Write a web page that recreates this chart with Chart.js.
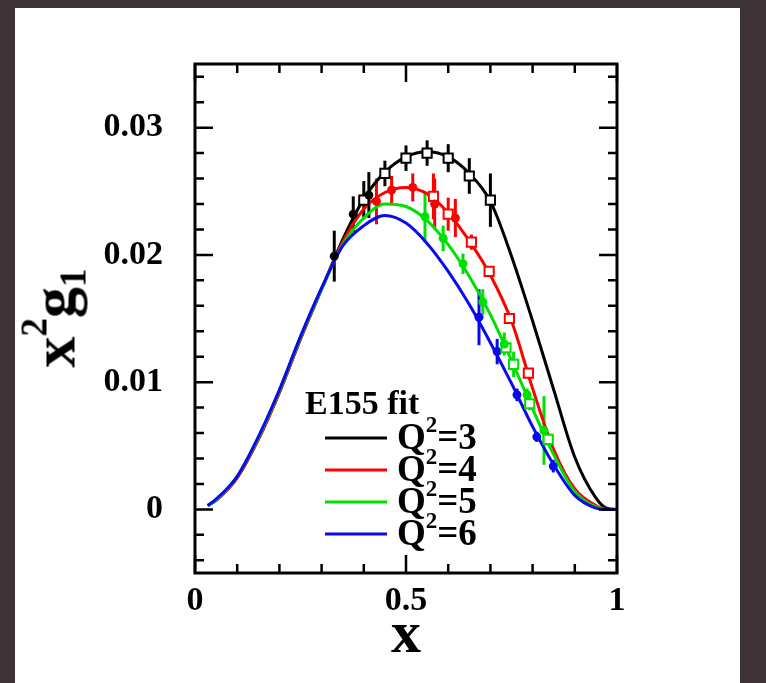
<!DOCTYPE html>
<html>
<head>
<meta charset="utf-8">
<script src="https://cdn.jsdelivr.net/npm/chart.js@4.4.1/dist/chart.umd.min.js"></script>
<style>
  html, body { margin: 0; padding: 0; background: #3d3337; }
  body { width: 766px; height: 683px; position: relative; overflow: hidden; }
  .panel { position: absolute; left: 15px; top: 8px; width: 725px; height: 675px; background: #fff; }
  .panel canvas { position: absolute; left: 0; top: 0; }
  .ytitle {
    position: absolute; left: 58px; top: 318px;
    font: bold 62px "Liberation Serif", serif; line-height: 62px; white-space: nowrap;
    transform: translate(-50%, -50%) rotate(-90deg);
  }
  .ytitle sup, .ytitle sub { font-size: 0.6em; position: relative; vertical-align: baseline; }
  .ytitle sup { top: -0.75em; }
  .ytitle sub { top: 0.3em; }
</style>
</head>
<body>
<div class="panel"><canvas id="chart" width="725" height="675"></canvas></div>
<div class="ytitle">x<sup>2</sup>g<sub>1</sub></div>
<script>
// axis ticks
const xTickLabels = [0, 0.5, 1];
const yTickLabels = [0, 0.01, 0.02, 0.03];

// E155 fit curves, x^2 g1 at several Q^2
const q2Values = [3, 4, 5, 6];
const curveX = [0.03, 0.05, 0.1, 0.15, 0.2, 0.25, 0.3, 0.35, 0.4, 0.45, 0.5, 0.55, 0.6, 0.65, 0.7, 0.75, 0.8, 0.85, 0.9, 0.95, 0.975, 1.0];
const fitQ3 = [0.0003, 0.0007, 0.0025, 0.0055, 0.0092, 0.0134, 0.0173, 0.0212, 0.0244, 0.0265, 0.0277, 0.0281, 0.0277, 0.0264, 0.0242, 0.0199, 0.0148, 0.0094, 0.0041, 0.0009, 0.0001, 0];
const fitQ4 = [0.0003, 0.0007, 0.0025, 0.0055, 0.0092, 0.0134, 0.0173, 0.0210, 0.0236, 0.0249, 0.0253, 0.0248, 0.0233, 0.0211, 0.0184, 0.0148, 0.0095, 0.0047, 0.0016, 0.0003, 0, 0];
const fitQ5 = [0.0003, 0.0007, 0.0026, 0.0056, 0.0093, 0.0135, 0.0173, 0.0208, 0.0229, 0.0240, 0.0238, 0.0227, 0.0208, 0.0183, 0.0153, 0.0117, 0.0079, 0.0043, 0.0014, 0.0002, 0, 0];
const fitQ6 = [0.0003, 0.0008, 0.0026, 0.0057, 0.0094, 0.0136, 0.0174, 0.0207, 0.0223, 0.0231, 0.0225, 0.0209, 0.0187, 0.0161, 0.0131, 0.0099, 0.0065, 0.0035, 0.0011, 0.0001, 0, 0];

// measured points (filled = other runs, open squares = E155)
const blackDotX = [0.33, 0.375, 0.412];
const blackDotY = [0.0199, 0.0232, 0.0247];
const blackDotErr = [0.0020, 0.0014, 0.0018];
const blackSqX = [0.40, 0.45, 0.50, 0.55, 0.60, 0.65, 0.70];
const blackSqY = [0.0243, 0.0264, 0.0276, 0.0280, 0.0276, 0.0262, 0.0243];
const blackSqErr = [0.0015, 0.0010, 0.0010, 0.0010, 0.0011, 0.0014, 0.0021];

const redDotX = [0.43, 0.466, 0.516, 0.568, 0.617];
const redDotY = [0.0242, 0.0251, 0.0253, 0.0240, 0.0229];
const redDotErr = [0.0018, 0.0011, 0.0011, 0.0020, 0.0015];
const redSqX = [0.565, 0.60, 0.655, 0.697, 0.745, 0.79];
const redSqY = [0.0246, 0.0232, 0.0210, 0.0187, 0.0150, 0.0107];
const redSqErr = [0.0018, 0.0013, 0.0006, 0.0004, 0.0003, 0.0003];

const greenDotX = [0.545, 0.588, 0.635, 0.682, 0.733, 0.787, 0.827];
const greenDotY = [0.0230, 0.0213, 0.0193, 0.0163, 0.0130, 0.0090, 0.0062];
const greenDotErr = [0.0020, 0.0010, 0.0008, 0.0010, 0.0009, 0.0005, 0.0027];
const greenSqX = [0.737, 0.755, 0.793, 0.837];
const greenSqY = [0.0127, 0.0114, 0.0083, 0.0055];
const greenSqErr = [0.0004, 0.0010, 0.0005, 0.0005];

const blueDotX = [0.673, 0.716, 0.763, 0.81, 0.849];
const blueDotY = [0.0151, 0.0124, 0.0090, 0.0057, 0.0034];
const blueDotErr = [0.0022, 0.0010, 0.0005, 0.0004, 0.0005];

const colors = ["#000000", "#ff0000", "#00e000", "#0a0aee"];
const fits = [fitQ3, fitQ4, fitQ5, fitQ6];

const xMinorStep = 0.1;
const yMinorStep = 0.002;

const toXY = (xs, ys) => xs.map((x, i) => ({ x, y: ys[i] }));

const pointSet = (xs, ys, errs, color, square) => ({
    data: toXY(xs, ys),
    errors: errs,
    showLine: false,
    pointStyle: square ? "rect" : "circle",
    pointRadius: square ? 6.5 : 4.5,
    backgroundColor: square ? "#ffffff" : color,
    borderColor: color,
    borderWidth: square ? 2 : 0,
    order: 0,
});

const datasets = [
    pointSet(blackDotX, blackDotY, blackDotErr, colors[0], false),
    pointSet(blackSqX, blackSqY, blackSqErr, colors[0], true),
    pointSet(redDotX, redDotY, redDotErr, colors[1], false),
    pointSet(redSqX, redSqY, redSqErr, colors[1], true),
    pointSet(greenDotX, greenDotY, greenDotErr, colors[2], false),
    pointSet(greenSqX, greenSqY, greenSqErr, colors[2], true),
    pointSet(blueDotX, blueDotY, blueDotErr, colors[3], false),
];

fits.forEach((fit, i) => {
    datasets.push({
        label: "Q²=" + q2Values[i],
        isFit: true,
        data: toXY(curveX, fit),
        showLine: true,
        borderColor: colors[i],
        borderWidth: 3,
        pointRadius: 0,
        cubicInterpolationMode: "monotone",
        order: 4 - i,
    });
});

const nearTick = (v, list) => list.some((t) => Math.abs(v - t) < 1e-9);

// vertical error bars, drawn under the markers
const errorBars = {
    id: "errorBars",
    beforeDatasetsDraw(chart) {
        const { ctx, scales: { x, y } } = chart;
        ctx.save();
        ctx.lineWidth = 3;
        chart.data.datasets.forEach((ds) => {
            if (!ds.errors) return;
            ctx.strokeStyle = ds.borderColor;
            ds.data.forEach((p, i) => {
                const px = x.getPixelForValue(p.x);
                ctx.beginPath();
                ctx.moveTo(px, y.getPixelForValue(p.y - ds.errors[i]));
                ctx.lineTo(px, y.getPixelForValue(p.y + ds.errors[i]));
                ctx.stroke();
            });
        });
        ctx.restore();
    },
};

// box with inward ticks on all four sides
const frameTicks = {
    id: "frameTicks",
    afterDatasetsDraw(chart) {
        const { ctx, chartArea: a, scales: { x, y } } = chart;
        ctx.save();
        ctx.strokeStyle = "#000";
        ctx.lineWidth = 2.5;
        ctx.beginPath();
        for (let i = Math.ceil(x.min / xMinorStep); i * xMinorStep <= x.max + 1e-9; i++) {
            const v = i * xMinorStep;
            const len = nearTick(v, xTickLabels) ? 18 : 9;
            const px = x.getPixelForValue(v);
            ctx.moveTo(px, a.bottom);
            ctx.lineTo(px, a.bottom - len);
            ctx.moveTo(px, a.top);
            ctx.lineTo(px, a.top + len);
        }
        for (let i = Math.ceil(y.min / yMinorStep - 1e-9); i * yMinorStep <= y.max + 1e-9; i++) {
            const v = i * yMinorStep;
            const len = nearTick(v, yTickLabels) ? 18 : 9;
            const py = y.getPixelForValue(v);
            ctx.moveTo(a.left, py);
            ctx.lineTo(a.left + len, py);
            ctx.moveTo(a.right, py);
            ctx.lineTo(a.right - len, py);
        }
        ctx.stroke();
        ctx.lineWidth = 3;
        ctx.strokeRect(a.left, a.top, a.width, a.height);
        ctx.restore();
    },
};

// "E155 fit" legend inside the plot
const fitLegend = {
    id: "fitLegend",
    afterDraw(chart) {
        const { ctx } = chart;
        const fitSets = chart.data.datasets.filter((ds) => ds.isFit);
        ctx.save();
        ctx.fillStyle = "#000";
        ctx.textBaseline = "alphabetic";
        ctx.font = "bold 34px 'Liberation Serif'";
        ctx.fillText("E155 fit", 290, 406);
        fitSets.forEach((ds, i) => {
            const ly = 430 + i * 32;
            ctx.strokeStyle = ds.borderColor;
            ctx.lineWidth = 3;
            ctx.beginPath();
            ctx.moveTo(310, ly);
            ctx.lineTo(372, ly);
            ctx.stroke();
            let tx = 382;
            const base = ly + 11;
            ctx.font = "bold 37px 'Liberation Serif'";
            ctx.fillText("Q", tx, base);
            tx += ctx.measureText("Q").width;
            ctx.font = "bold 23px 'Liberation Serif'";
            ctx.fillText("2", tx, base - 17);
            tx += ctx.measureText("2").width;
            ctx.font = "bold 37px 'Liberation Serif'";
            ctx.fillText("=" + q2Values[i], tx, base);
        });
        ctx.restore();
    },
};

const tickFont = { family: "'Liberation Serif', serif", weight: "bold", size: 34 };

new Chart(document.getElementById("chart"), {
    type: "scatter",
    data: { datasets },
    options: {
        responsive: false,
        animation: false,
        layout: { padding: { top: 56, right: 123, left: 0, bottom: 0 } },
        plugins: { legend: { display: false }, tooltip: { enabled: false } },
        scales: {
            x: {
                type: "linear",
                min: 0,
                max: 1,
                grid: { display: false },
                border: { display: false },
                afterBuildTicks: (s) => { s.ticks = xTickLabels.map((v) => ({ value: v })); },
                afterFit: (s) => { s.height = 110; },
                ticks: { font: tickFont, color: "#000", padding: 0, maxRotation: 0, callback: (v) => String(v) },
                title: {
                    display: true,
                    text: "x",
                    color: "#000",
                    font: { family: "'Liberation Serif', serif", weight: "bold", size: 60 },
                    padding: { top: 0, bottom: 11 },
                },
            },
            y: {
                type: "linear",
                min: -0.005,
                max: 0.035,
                grid: { display: false },
                border: { display: false },
                afterBuildTicks: (s) => { s.ticks = yTickLabels.map((v) => ({ value: v })); },
                afterFit: (s) => { s.width = 180; },
                ticks: { font: tickFont, color: "#000", padding: 24, callback: (v) => String(v) },
            },
        },
    },
    plugins: [errorBars, frameTicks, fitLegend],
});
</script>
</body>
</html>
